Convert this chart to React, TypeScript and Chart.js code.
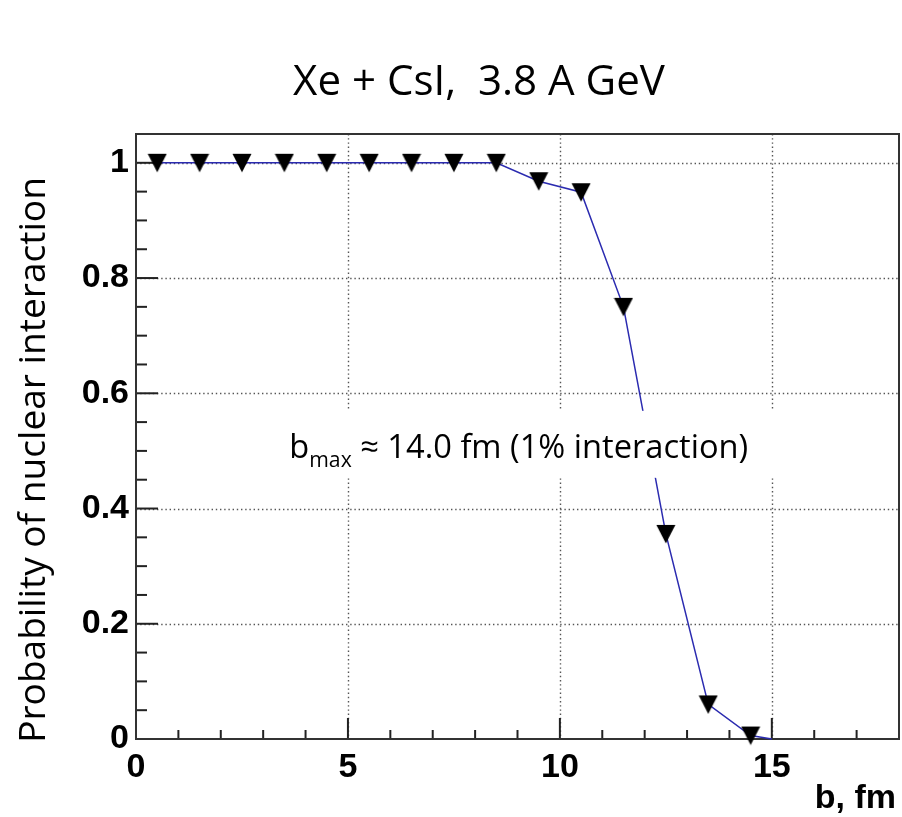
import React, { useEffect, useRef } from "react";
import { Chart, registerables } from "chart.js";

Chart.register(...registerables);

// ---- data ----
const bValues = [0.5, 1.5, 2.5, 3.5, 4.5, 5.5, 6.5, 7.5, 8.5, 9.5, 10.5, 11.5, 12.5, 13.5, 14.5, 15.0];
const probValues = [1, 1, 1, 1, 1, 1, 1, 1, 1, 0.968, 0.949, 0.75, 0.356, 0.06, 0.006, 0];
const markerShown = [true, true, true, true, true, true, true, true, true, true, true, true, true, true, true, false];
const xTickValues = [0, 5, 10, 15];
const xTickLabels = ["0", "5", "10", "15"];
const yTickValues = [0, 0.2, 0.4, 0.6, 0.8, 1];
const yTickLabels = ["0", "0.2", "0.4", "0.6", "0.8", "1"];
const titleText = "Xe + CsI,  3.8 A GeV";
const yTitleText = "Probability of nuclear interaction";
const xTitleText = "b, fm";
const annSub = "max";
const annRest = " \u2248 14.0 fm (1% interaction)";

const SANS = '"Open Sans", "Noto Sans", sans-serif';
const BOLD = '"Liberation Sans", Arial, sans-serif';

function fitSize(ctx: CanvasRenderingContext2D, text: string, family: string, weight: string, target: number) {
  ctx.font = `${weight} 40px ${family}`;
  const w = ctx.measureText(text).width;
  return (40 * target) / w;
}

function makeMarker() {
  const c = document.createElement("canvas");
  c.width = 20;
  c.height = 20;
  const g = c.getContext("2d")!;
  g.fillStyle = "#000";
  g.beginPath();
  g.moveTo(0.5, 1);
  g.lineTo(19.5, 1);
  g.lineTo(10, 19.5);
  g.closePath();
  g.fill();
  return c;
}

const framePlugin = {
  id: "rootFrame",
  beforeDatasetsDraw(chart: any) {
    const { ctx, chartArea: a, scales } = chart;
    const xs = scales.x;
    const ys = scales.y;
    ctx.save();
    // dotted grid
    ctx.strokeStyle = "#555";
    ctx.lineWidth = 1.4;
    ctx.setLineDash([1.4, 2.8]);
    xTickValues.forEach((v) => {
      if (v === xs.min) return;
      const px = Math.round(xs.getPixelForValue(v)) + 0.5;
      ctx.beginPath();
      ctx.moveTo(px, a.top);
      ctx.lineTo(px, a.bottom);
      ctx.stroke();
    });
    yTickValues.forEach((v) => {
      if (v === ys.min) return;
      const py = Math.round(ys.getPixelForValue(v)) + 0.5;
      ctx.beginPath();
      ctx.moveTo(a.left, py);
      ctx.lineTo(a.right, py);
      ctx.stroke();
    });
    ctx.setLineDash([]);
    // ticks (inside)
    ctx.strokeStyle = "#222";
    ctx.lineWidth = 2;
    for (let i = 1; i < 18; i++) {
      const px = xs.getPixelForValue(i);
      const len = i % 5 === 0 ? 21 : 9;
      ctx.beginPath();
      ctx.moveTo(px, a.bottom);
      ctx.lineTo(px, a.bottom - len);
      ctx.stroke();
    }
    for (let i = 1; i < 21; i++) {
      const py = ys.getPixelForValue(i * 0.05);
      const len = i % 4 === 0 ? 22 : 11;
      ctx.beginPath();
      ctx.moveTo(a.left, py);
      ctx.lineTo(a.left + len, py);
      ctx.stroke();
    }
    // frame
    ctx.strokeStyle = "#333";
    ctx.lineWidth = 2;
    ctx.strokeRect(a.left, a.top, a.right - a.left, a.bottom - a.top);
    ctx.restore();
  },
  afterDatasetsDraw(chart: any) {
    const { ctx, scales } = chart;
    const xs = scales.x;
    const ys = scales.y;
    ctx.save();
    // annotation
    const target = 459;
    ctx.font = `40px ${SANS}`;
    const wb0 = ctx.measureText("b").width;
    const wr0 = ctx.measureText(annRest).width;
    ctx.font = `${40 * 0.65}px ${SANS}`;
    const wm0 = ctx.measureText(annSub).width;
    const k = target / (wb0 + wr0 + wm0);
    const s = 40 * k;
    const cx = xs.getPixelForValue(9.03);
    const base = ys.getPixelForValue(0.488);
    const left = cx - target / 2;
    ctx.fillStyle = "#fff";
    ctx.fillRect(left - 18, base - 47, target + 18 + 50, 67);
    ctx.fillStyle = "#000";
    ctx.textBaseline = "alphabetic";
    ctx.textAlign = "left";
    ctx.font = `${s}px ${SANS}`;
    ctx.fillText("b", left, base);
    ctx.font = `${s * 0.65}px ${SANS}`;
    ctx.fillText(annSub, left + wb0 * k, base + 9);
    ctx.font = `${s}px ${SANS}`;
    ctx.fillText(annRest, left + (wb0 + wm0) * k, base);
    ctx.restore();
  },
  afterDraw(chart: any) {
    const { ctx } = chart;
    ctx.save();
    ctx.fillStyle = "#000";
    ctx.textBaseline = "alphabetic";
    // title
    const ts = fitSize(ctx, titleText, SANS, "normal", 372);
    ctx.font = `${ts}px ${SANS}`;
    ctx.textAlign = "center";
    ctx.fillText(titleText, 479, 95);
    // y title
    const ys = fitSize(ctx, yTitleText, SANS, "normal", 566);
    ctx.font = `${ys}px ${SANS}`;
    ctx.save();
    ctx.translate(45, 460);
    ctx.rotate(-Math.PI / 2);
    ctx.textAlign = "center";
    ctx.fillText(yTitleText, 0, 0);
    ctx.restore();
    // x title
    ctx.font = `bold 34px ${BOLD}`;
    ctx.textAlign = "right";
    ctx.fillText(xTitleText, 896, 808);
    ctx.restore();
  },
};

export default function App() {
  const ref = useRef<HTMLCanvasElement | null>(null);
  useEffect(() => {
    if (!ref.current) return;
    const marker = makeMarker();
    const points = bValues.map((b, i) => ({ x: b, y: probValues[i] }));
    const chart = new Chart(ref.current, {
      type: "line",
      data: {
        datasets: [
          {
            data: points,
            borderColor: "#2b2bb0",
            borderWidth: 1.5,
            tension: 0,
            pointStyle: marker as any,
            pointRadius: (c: any) => (markerShown[c.dataIndex] ? 10 : 0),
            clip: false as any,
          },
        ],
      },
      options: {
        animation: false,
        responsive: false,
        maintainAspectRatio: false,
        layout: { autoPadding: false, padding: { top: 134, right: 3, left: 0, bottom: 0 } },
        plugins: { legend: { display: false }, title: { display: false }, tooltip: { enabled: false } },
        scales: {
          x: {
            type: "linear",
            min: 0,
            max: 18,
            grid: { display: false, drawTicks: false },
            border: { display: false },
            afterBuildTicks: (sc: any) => {
              sc.ticks = xTickValues.map((v) => ({ value: v }));
            },
            afterFit: (sc: any) => {
              sc.height = 78;
              sc.paddingLeft = 0;
              sc.paddingRight = 0;
            },
            ticks: {
              padding: 8,
              maxRotation: 0,
              autoSkip: false,
              color: "#000",
              font: { family: BOLD, size: 34, weight: "bold" },
              callback: (v: any) => xTickLabels[xTickValues.indexOf(Number(v))] ?? "",
            },
          },
          y: {
            type: "linear",
            min: 0,
            max: 1.05,
            grid: { display: false, drawTicks: false },
            border: { display: false },
            afterBuildTicks: (sc: any) => {
              sc.ticks = yTickValues.map((v) => ({ value: v }));
            },
            afterFit: (sc: any) => {
              sc.width = 136;
              sc.paddingTop = 0;
              sc.paddingBottom = 0;
            },
            ticks: {
              padding: 7,
              autoSkip: false,
              color: "#000",
              font: { family: BOLD, size: 34, weight: "bold" },
              callback: (v: any) => {
                const i = yTickValues.findIndex((t) => Math.abs(t - Number(v)) < 1e-9);
                return i >= 0 ? yTickLabels[i] : "";
              },
            },
          },
        },
      },
      plugins: [framePlugin],
    });
    return () => chart.destroy();
  }, []);
  return (
    <div style={{ position: "absolute", left: 0, top: 0, width: 902, height: 817, background: "#fff" }}>
      <canvas ref={ref} width={902} height={817} style={{ display: "block", width: 902, height: 817 }} />
    </div>
  );
}
